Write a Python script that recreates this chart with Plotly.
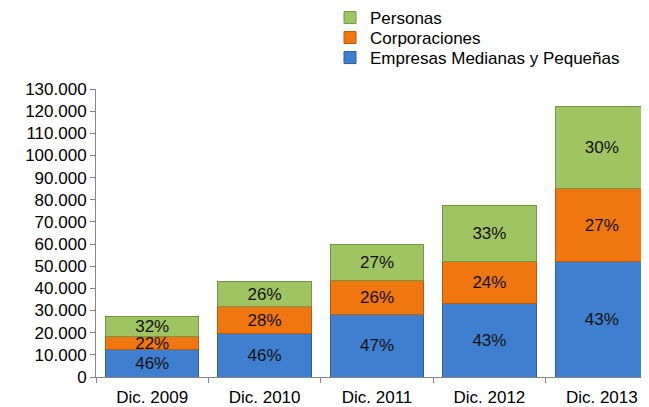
import plotly.graph_objects as go

categorias = ["Dic. 2009", "Dic. 2010", "Dic. 2011", "Dic. 2012", "Dic. 2013"]

# valores en miles
empresas = [12300, 19600, 28000, 33200, 52000]
corporaciones = [5900, 12000, 15700, 18800, 33100]
personas = [8900, 11300, 16300, 25500, 36800]

empresas_pct = ["46%", "46%", "47%", "43%", "43%"]
corporaciones_pct = ["22%", "28%", "26%", "24%", "27%"]
personas_pct = ["32%", "26%", "27%", "33%", "30%"]

series = [
    ("Empresas Medianas y Pequeñas", empresas, empresas_pct, "#3f7fcf", "#2d5f9e", "legend3", 50),
    ("Corporaciones", corporaciones, corporaciones_pct, "#f0770f", "#b9590a", "legend2", 30),
    ("Personas", personas, personas_pct, "#9fc462", "#789545", "legend", 10),
]

fig = go.Figure()
leyendas = {}
for nombre, valores, textos, color, borde, ley, ypix in series:
    fig.add_trace(go.Bar(
        x=categorias, y=valores, name=nombre, legend=ley,
        text=textos, textposition="inside", insidetextanchor="middle",
        constraintext="none", textangle=0,
        textfont=dict(family="Liberation Sans, Arial", size=17, color="#111111"),
        marker=dict(color=color, line=dict(color=borde, width=1)),
        hoverinfo="skip",
    ))
    leyendas[ley] = dict(
        xref="container", yref="container",
        x=322 / 649, y=1 - ypix / 407, xanchor="left", yanchor="middle",
        font=dict(size=17), itemwidth=30,
        bgcolor="rgba(0,0,0,0)",
    )

# la página deja 8 px de margen al cuerpo: se descuentan aquí
fig.update_layout(
    barmode="stack",
    bargap=0.17,
    width=649, height=407,
    margin=dict(l=88, r=8, t=81, b=38, autoexpand=False),
    paper_bgcolor="white", plot_bgcolor="white",
    separators=",.",
    font=dict(family="Liberation Sans, Arial", size=17, color="#000000"),
    showlegend=True,
    xaxis=dict(
        range=[-0.5, 4.42], automargin=False,
        showline=True, linecolor="#868686", linewidth=1,
        ticks="outside", tickson="boundaries", ticklen=5, tickcolor="#868686",
        ticklabelstandoff=5, tickangle=0,
        showgrid=False,
    ),
    yaxis=dict(
        range=[0, 130000], dtick=10000, tickformat=",d", automargin=False,
        showline=True, linecolor="#868686", linewidth=1,
        ticks="outside", ticklen=5, tickcolor="#868686",
        showgrid=False, zeroline=False,
    ),
    **leyendas,
)

fig.write_html("out.html")
